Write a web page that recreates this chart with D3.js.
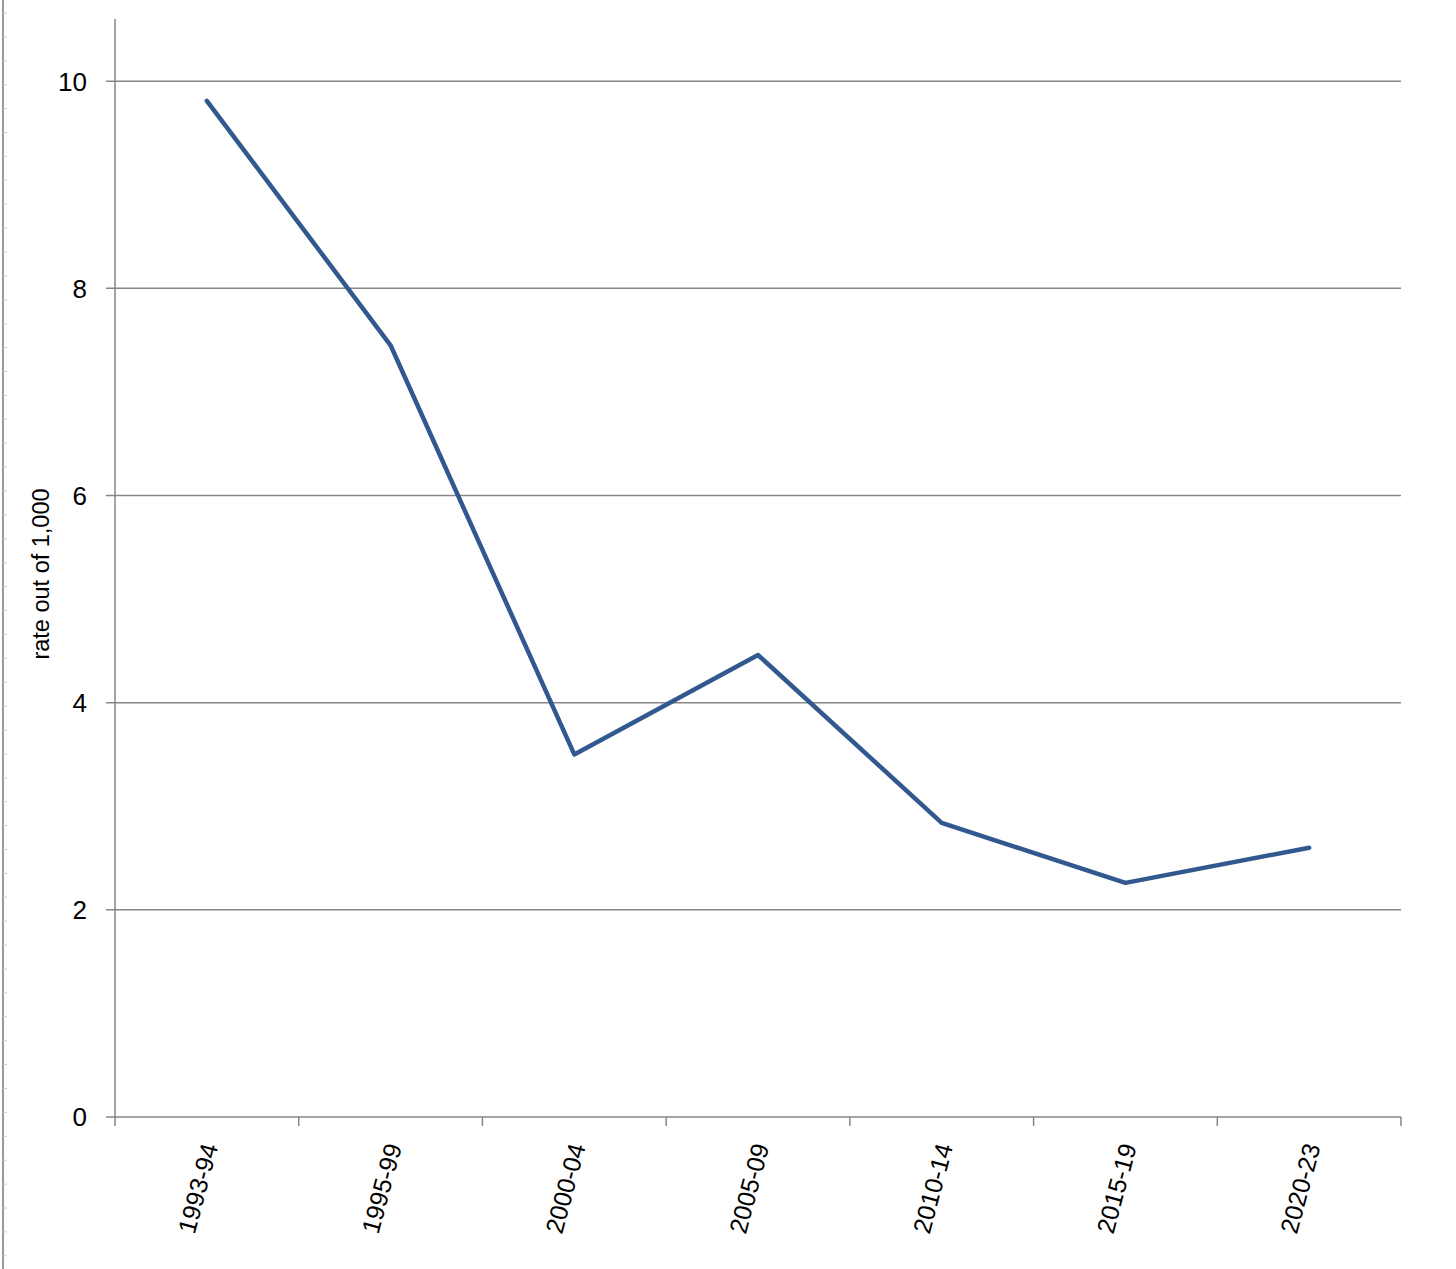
<!DOCTYPE html>
<html>
<head>
<meta charset="utf-8">
<script src="https://cdn.jsdelivr.net/npm/d3@7"></script>
<style>
  html, body { margin: 0; padding: 0; background: #fff; }
  svg { display: block; }
  text { font-family: "Liberation Sans", Arial, sans-serif; fill: #000; }
</style>
</head>
<body>
<svg id="chart" width="1456" height="1269"></svg>
<script>
const categories = ["1993-94", "1995-99", "2000-04", "2005-09", "2010-14", "2015-19", "2020-23"];
const rates = [9.81, 7.45, 3.50, 4.46, 2.84, 2.26, 2.60];
const yTicks = [0, 2, 4, 6, 8, 10];
const yTitle = "rate out of 1,000";

const W = 1456, H = 1269;
const margin = { left: 115, right: 55, top: 19, bottom: 152 };
const svg = d3.select("#chart");

const x = d3.scaleBand().domain(categories).range([margin.left, W - margin.right]).paddingInner(0).paddingOuter(0);
const y = d3.scaleLinear().domain([0, 10.6]).range([H - margin.bottom, margin.top]);

const grey = "#868686";

// left-edge ruler decoration
svg.append("line").attr("x1", 3).attr("x2", 3).attr("y1", 0).attr("y2", H)
  .attr("stroke", "#777").attr("stroke-width", 1.5);
svg.append("g").selectAll("line").data(d3.range(13, H, 23.9)).join("line")
  .attr("x1", 3).attr("x2", 7).attr("y1", d => d).attr("y2", d => d)
  .attr("stroke", "#ccc").attr("stroke-width", 1);

// gridlines + y ticks
const gy = svg.append("g");
gy.selectAll("line").data(yTicks).join("line")
  .attr("x1", margin.left - 9).attr("x2", W - margin.right)
  .attr("y1", d => y(d)).attr("y2", d => y(d))
  .attr("stroke", grey).attr("stroke-width", 1.5);
gy.selectAll("text").data(yTicks).join("text")
  .attr("x", 87).attr("y", d => y(d)).attr("dy", "0.36em")
  .attr("text-anchor", "end").attr("font-size", 26)
  .text(d => d);

// y axis line
svg.append("line").attr("x1", margin.left).attr("x2", margin.left)
  .attr("y1", margin.top).attr("y2", y(0))
  .attr("stroke", grey).attr("stroke-width", 1.5);

// x tick marks (category boundaries)
const bounds = categories.map(c => x(c)).concat([x(categories[categories.length - 1]) + x.bandwidth()]);
svg.append("g").selectAll("line").data(bounds).join("line")
  .attr("x1", d => d).attr("x2", d => d)
  .attr("y1", y(0)).attr("y2", y(0) + 9)
  .attr("stroke", grey).attr("stroke-width", 1.5);

// x labels
svg.append("g").selectAll("text").data(categories).join("text")
  .attr("transform", d => `translate(${x(d) + x.bandwidth() / 2 + 3},${y(0) + 27}) rotate(-75)`)
  .attr("text-anchor", "end").attr("dy", "0.35em").attr("font-size", 25)
  .text(d => d);

// y title
svg.append("text")
  .attr("transform", `translate(49,${(488 + 660) / 2}) rotate(-90)`)
  .attr("text-anchor", "middle").attr("font-size", 23.5)
  .text(yTitle);

// line
const line = d3.line()
  .x((d, i) => x(categories[i]) + x.bandwidth() / 2)
  .y(d => y(d));
svg.append("path").datum(rates)
  .attr("d", line)
  .attr("fill", "none").attr("stroke", "#32598f")
  .attr("stroke-width", 4.5).attr("stroke-linecap", "round").attr("stroke-linejoin", "round");
</script>
</body>
</html>
